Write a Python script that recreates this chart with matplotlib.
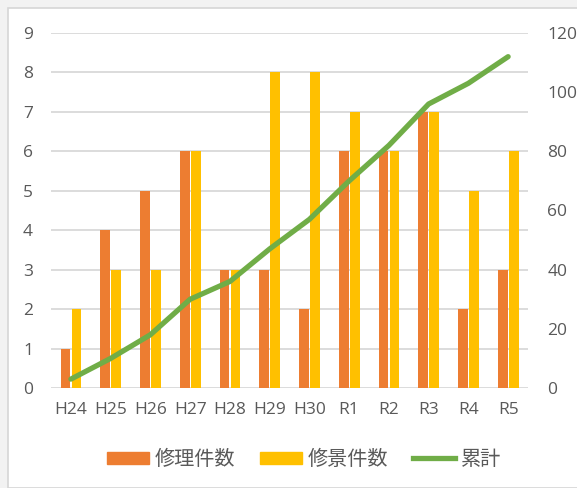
import matplotlib
matplotlib.use("Agg")
import matplotlib.pyplot as plt
import numpy as np
from matplotlib.patches import Rectangle, Patch
from matplotlib.lines import Line2D

plt.rcParams['font.family'] = ['Open Sans', 'Noto Sans CJK JP', 'DejaVu Sans']

categories = ["H24", "H25", "H26", "H27", "H28", "H29", "H30", "R1", "R2", "R3", "R4", "R5"]
repair = [1, 4, 5, 6, 3, 3, 2, 6, 6, 7, 2, 3]
scenery = [2, 3, 3, 6, 3, 8, 8, 7, 6, 7, 5, 6]
cumulative = [3, 10, 18, 30, 36, 47, 57, 70, 82, 96, 103, 112]

c_orange = "#ED7D31"
c_yellow = "#FFC000"
c_green = "#70AD47"
c_text = "#595959"
c_grid = "#D9D9D9"

fig = plt.figure(figsize=(5.77, 4.88), dpi=100)
fig.patch.set_facecolor("#F2F2F2")
fig.patches.append(Rectangle((8/577, 0), 1, 1 - 8/488, transform=fig.transFigure,
                             facecolor="white", edgecolor="#D6D6D6", linewidth=1.2, zorder=-10))

ax = fig.add_axes([51/577, 1 - 388/488, (528-51)/577, (388-33)/488])
ax.set_facecolor("none")
x = np.arange(len(categories))
w = 0.245
ax.bar(x - 0.137, repair, width=w, color=c_orange, zorder=2)
ax.bar(x + 0.14, scenery, width=w, color=c_yellow, zorder=2)
ax.set_xlim(-0.5, len(categories) - 0.5)
ax.set_ylim(0, 9)
ax.set_yticks(range(0, 10))
ax.yaxis.grid(True, color=c_grid, linewidth=1.3, zorder=0)
ax.set_axisbelow(True)
for s in ax.spines.values():
    s.set_visible(False)
ax.set_xticks(x)
ax.set_xticklabels(categories)
ax.tick_params(axis='both', length=0, colors=c_text, labelsize=12.5)
ax.tick_params(axis='x', pad=10)
ax.tick_params(axis='y', pad=13)

ax2 = ax.twinx()
ax2.plot(x, cumulative, color=c_green, linewidth=3.8, solid_capstyle='round', zorder=3)
ax2.set_ylim(0, 120)
ax2.set_yticks(range(0, 121, 20))
for s in ax2.spines.values():
    s.set_visible(False)
ax2.tick_params(axis='y', length=0, colors=c_text, labelsize=12.5, pad=14)

handles = [Patch(color=c_orange), Patch(color=c_yellow),
           Line2D([], [], color=c_green, linewidth=3.8)]
labels = ["修理件数", "修景件数", "累計"]
leg = fig.legend(handles, labels, loc='center', bbox_to_anchor=(304/577, 1 - 460/488), ncol=3,
                 frameon=False, fontsize=14.5, handlelength=2.1, handleheight=0.55,
                 columnspacing=1.2, handletextpad=0.3, labelcolor=c_text)

fig.savefig("out.png", dpi=100, facecolor=fig.get_facecolor())
